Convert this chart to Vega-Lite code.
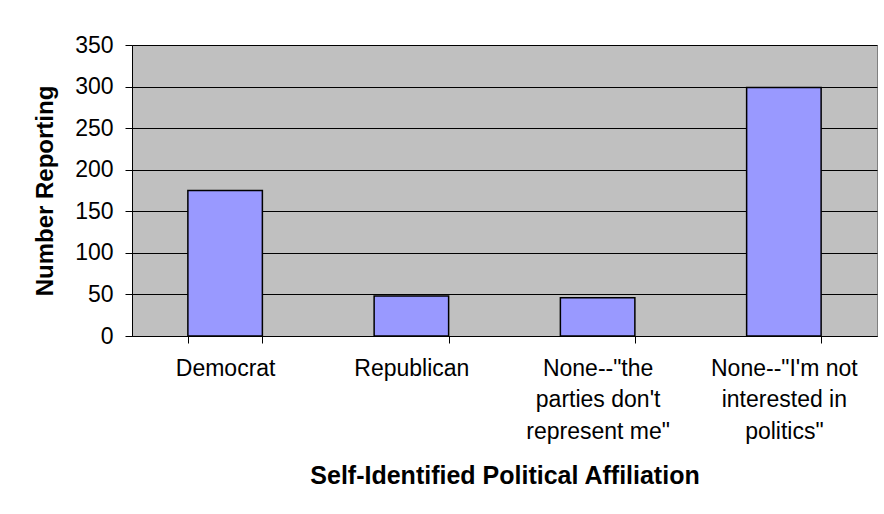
{
  "$schema": "https://vega.github.io/schema/vega-lite/v6.json",
  "width": 745,
  "height": 291,
  "autosize": {"type": "none"},
  "padding": {"left": 132, "top": 45, "right": 7, "bottom": 178},
  "background": "white",
  "config": {
    "font": "Liberation Sans",
    "view": {"fill": "#C0C0C0", "stroke": "#808080", "strokeWidth": 1}
  },
  "data": {
    "values": [
      {"affiliation": "Democrat", "count": 175},
      {"affiliation": "Republican", "count": 48},
      {"affiliation": "None--\"the\nparties don't\nrepresent me\"", "count": 46},
      {"affiliation": "None--\"I'm not\ninterested in\npolitics\"", "count": 299}
    ]
  },
  "mark": {"type": "bar", "fill": "#9999FF", "stroke": "black", "strokeWidth": 1.5},
  "encoding": {
    "x": {
      "field": "affiliation",
      "type": "nominal",
      "sort": null,
      "scale": {"paddingInner": 0.6, "paddingOuter": 0.3},
      "axis": {
        "title": "Self-Identified Political Affiliation",
        "titleFontSize": 25,
        "titleFontWeight": "bold",
        "titleColor": "black",
        "titlePadding": 20,
        "labelAngle": 0,
        "labelFontSize": 23,
        "labelColor": "black",
        "labelLimit": 300,
        "labelLineHeight": 31.5,
        "labelPadding": 14,
        "labelExpr": "split(datum.label, '\\n')",
        "tickBand": "extent",
        "tickSize": 7,
        "tickColor": "black",
        "domainColor": "black",
        "domainWidth": 1
      }
    },
    "y": {
      "field": "count",
      "type": "quantitative",
      "scale": {"domain": [0, 350], "nice": false},
      "axis": {
        "title": "Number Reporting",
        "titleFontSize": 24,
        "titleFontWeight": "bold",
        "titleColor": "black",
        "titlePadding": 17,
        "values": [0, 50, 100, 150, 200, 250, 300, 350],
        "labelFontSize": 23,
        "labelColor": "black",
        "labelPadding": 12,
        "tickSize": 7,
        "tickColor": "black",
        "domainColor": "black",
        "grid": true,
        "gridColor": "black",
        "gridOpacity": 1,
        "gridWidth": 1
      }
    }
  }
}
